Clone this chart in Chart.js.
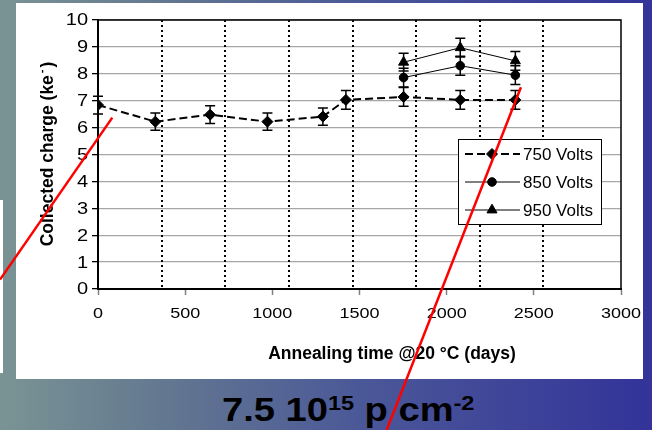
<!DOCTYPE html>
<html>
<head>
<meta charset="utf-8">
<script src="https://cdn.jsdelivr.net/npm/chart.js@4.4.0/dist/chart.umd.min.js"></script>
<style>
  html, body { margin: 0; padding: 0; }
  body {
    width: 652px; height: 430px; overflow: hidden; position: relative;
    background: linear-gradient(to right, #7a9494 0%, #637890 25%, #4b5898 55%, #333399 100%);
  }
  #panel { position: absolute; left: 16px; top: 3px; width: 627px; height: 376px; background: #fff; }
  #strip { position: absolute; left: 0; top: 200px; width: 3px; height: 173px; background: #fff; }
  #fluence {
    position: absolute; left: 222px; top: 390px; line-height: 34px; white-space: nowrap;
    font: bold 34px "Liberation Sans", Arial, sans-serif; color: #000;
    transform: scaleX(1.12); transform-origin: left center;
  }
  #fluence sup { font-size: 21px; position: relative; top: -11px; vertical-align: baseline; }
  #wrap { position: absolute; left: 0; top: 0; width: 652px; height: 430px; }
</style>
</head>
<body>
<div id="panel"></div>
<div id="strip"></div>
<div id="fluence">7.5 10<sup>15</sup> p cm<sup>-2</sup></div>
<div id="wrap"><canvas id="chart"></canvas></div>
<script>
// data
const seriesNames = ['750 Volts', '850 Volts', '950 Volts'];
const days750 = [0, 329, 643, 972, 1290, 1422, 1753, 2078, 2394];
const charge750 = [6.84, 6.22, 6.48, 6.22, 6.41, 7.03, 7.14, 7.03, 7.03];
const err750 = [0.33, 0.32, 0.33, 0.32, 0.32, 0.35, 0.35, 0.35, 0.35];
const days850 = [1753, 2078, 2394];
const charge850 = [7.86, 8.30, 7.95];
const err850 = [0.35, 0.35, 0.35];
const days950 = [1753, 2078, 2394];
const charge950 = [8.43, 8.97, 8.48];
const err950 = [0.33, 0.35, 0.35];
// dotted yearly marks (days)
const yearLines = [365, 730, 1095, 1460, 1825, 2190, 2555];
// red strokes drawn on the slide, in data units [days, charge]
const redStrokes = [
    [[-562, 0.35], [82, 6.37]],
    [[1652, -5.3], [2426, 7.5]]
];

const toPoints = (xs, ys) => xs.map((d, i) => ({ x: d, y: ys[i] }));

const font = '"Liberation Sans", Arial, sans-serif';

const decorations = {
    id: 'decorations',
    beforeDatasetsDraw(chart) {
        const { ctx, chartArea: a, scales: { x, y } } = chart;
        // yearly dotted lines
        ctx.save();
        ctx.strokeStyle = '#000';
        ctx.lineWidth = 2;
        ctx.setLineDash([2, 3]);
        yearLines.forEach(d => {
            const px = Math.round(x.getPixelForValue(d));
            ctx.beginPath();
            ctx.moveTo(px, a.top);
            ctx.lineTo(px, a.bottom);
            ctx.stroke();
        });
        ctx.restore();
        // error bars
        ctx.save();
        ctx.strokeStyle = '#000';
        ctx.lineWidth = 1.5;
        chart.data.datasets.forEach((ds, i) => {
            chart.getDatasetMeta(i).data.forEach((pt, j) => {
                const v = ds.data[j].y, e = ds.errors[j];
                const t = y.getPixelForValue(v + e), b = y.getPixelForValue(v - e);
                ctx.beginPath();
                ctx.moveTo(pt.x, t); ctx.lineTo(pt.x, b);
                ctx.moveTo(pt.x - 5, t); ctx.lineTo(pt.x + 5, t);
                ctx.moveTo(pt.x - 5, b); ctx.lineTo(pt.x + 5, b);
                ctx.stroke();
            });
        });
        ctx.restore();
    },
    afterDraw(chart) {
        const { ctx, chartArea: a, scales: { x, y } } = chart;
        ctx.save();
        // top and right frame
        ctx.strokeStyle = '#000';
        ctx.lineWidth = 1.5;
        ctx.beginPath();
        ctx.moveTo(a.left, a.top); ctx.lineTo(a.right, a.top); ctx.lineTo(a.right, a.bottom);
        ctx.stroke();

        // tick labels (wide digits like the original)
        ctx.fillStyle = '#000';
        ctx.textBaseline = 'middle';
        ctx.font = '15px ' + font;
        ctx.textAlign = 'center';
        x.ticks.forEach(t => {
            ctx.save();
            ctx.translate(x.getPixelForValue(t.value), 314);
            ctx.scale(1.2, 1);
            ctx.fillText(String(t.value), 0, 0);
            ctx.restore();
        });
        ctx.font = '16px ' + font;
        ctx.textAlign = 'right';
        y.ticks.forEach(t => {
            ctx.save();
            ctx.translate(88, y.getPixelForValue(t.value) + 1);
            ctx.scale(1.25, 1);
            ctx.fillText(String(t.value), 0, 0);
            ctx.restore();
        });

        // axis titles
        ctx.textBaseline = 'alphabetic';
        ctx.font = 'bold 17.5px ' + font;
        ctx.textAlign = 'center';
        ctx.fillText('Annealing time @20 \u00B0C (days)', 392, 359);

        ctx.save();
        ctx.translate(53, 154);
        ctx.rotate(-Math.PI / 2);
        const main = 'Collected charge (ke', sup = '-', close = ')';
        ctx.font = 'bold 17.5px ' + font;
        const wMain = ctx.measureText(main).width, wClose = ctx.measureText(close).width;
        ctx.font = 'bold 11px ' + font;
        const wSup = ctx.measureText(sup).width + 4;
        let sx = -(wMain + wSup + wClose) / 2;
        ctx.textAlign = 'left';
        ctx.font = 'bold 17.5px ' + font;
        ctx.fillText(main, sx, 0);
        ctx.font = 'bold 11px ' + font;
        ctx.fillText(sup, sx + wMain + 2, -8);
        ctx.font = 'bold 17.5px ' + font;
        ctx.fillText(close, sx + wMain + wSup, 0);
        ctx.restore();

        // legend
        const lx = 458.5, ly = 139.5;
        ctx.fillStyle = '#fff';
        ctx.fillRect(lx, ly, 143, 85);
        ctx.strokeStyle = '#000';
        ctx.lineWidth = 1;
        ctx.strokeRect(lx, ly, 143, 85);
        chart.data.datasets.forEach((ds, i) => {
            const ry = 154 + i * 28;
            ctx.save();
            ctx.strokeStyle = '#000';
            ctx.lineWidth = ds.borderWidth;
            ctx.setLineDash(ds.borderDash || []);
            ctx.beginPath();
            ctx.moveTo(465, ry); ctx.lineTo(520, ry);
            ctx.stroke();
            ctx.restore();
            ctx.save();
            ctx.fillStyle = '#000';
            ctx.strokeStyle = '#000';
            ctx.lineWidth = 1;
            Chart.helpers.drawPoint(ctx, { pointStyle: ds.pointStyle, radius: ds.pointRadius, rotation: 0, borderWidth: 1 }, 492, ry);
            ctx.restore();
            ctx.fillStyle = '#000';
            ctx.font = '17px ' + font;
            ctx.textAlign = 'left';
            ctx.textBaseline = 'middle';
            ctx.fillText(ds.label, 523, ry + 1);
        });

        // red strokes over everything
        ctx.strokeStyle = '#ff0000';
        ctx.lineWidth = 2.5;
        redStrokes.forEach(s => {
            ctx.beginPath();
            ctx.moveTo(x.getPixelForValue(s[0][0]), y.getPixelForValue(s[0][1]));
            ctx.lineTo(x.getPixelForValue(s[1][0]), y.getPixelForValue(s[1][1]));
            ctx.stroke();
        });
        ctx.restore();
    }
};

new Chart(document.getElementById('chart'), {
    type: 'line',
    data: {
        datasets: [
            {
                label: seriesNames[0], data: toPoints(days750, charge750), errors: err750,
                borderColor: '#000', backgroundColor: '#000', borderWidth: 2, borderDash: [8, 4],
                pointStyle: 'rectRot', pointRadius: 5.5, pointBorderWidth: 1
            },
            {
                label: seriesNames[1], data: toPoints(days850, charge850), errors: err850,
                borderColor: '#000', backgroundColor: '#000', borderWidth: 1,
                pointStyle: 'circle', pointRadius: 4.3, pointBorderWidth: 1
            },
            {
                label: seriesNames[2], data: toPoints(days950, charge950), errors: err950,
                borderColor: '#000', backgroundColor: '#000', borderWidth: 1,
                pointStyle: 'triangle', pointRadius: 5.8, pointBorderWidth: 1
            }
        ]
    },
    options: {
        responsive: true,
        maintainAspectRatio: false,
        animation: false,
        layout: { padding: { left: 0, top: 20, right: 31, bottom: 0 } },
        plugins: { legend: { display: false }, tooltip: { enabled: false } },
        elements: { line: { tension: 0 } },
        scales: {
            x: {
                type: 'linear', min: 0, max: 3000,
                ticks: { stepSize: 500, display: false },
                grid: { drawOnChartArea: false, tickLength: 6, tickColor: '#808080', tickWidth: 1.5 },
                border: { color: '#000', width: 2 },
                afterFit: s => { s.height = 141; }
            },
            y: {
                min: 0, max: 10,
                ticks: { stepSize: 1, display: false },
                grid: { color: '#a6a6a6', lineWidth: 1.3, tickLength: 6, tickColor: '#000', tickWidth: 1.3 },
                border: { color: '#000', width: 2 },
                afterFit: s => { s.width = 98; }
            }
        }
    },
    plugins: [decorations]
});
</script>
</body>
</html>
